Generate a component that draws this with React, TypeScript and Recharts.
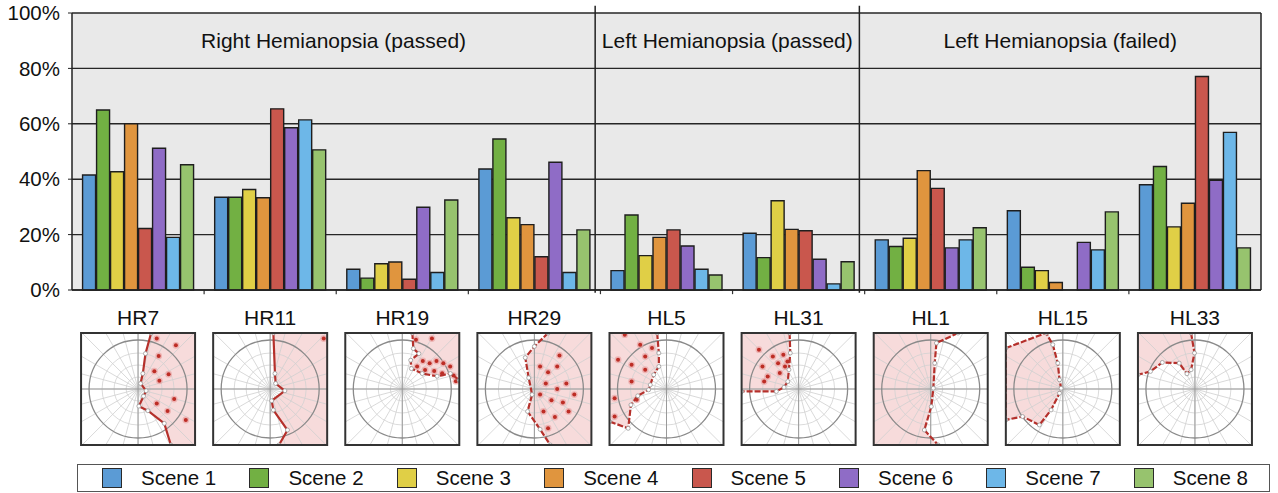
import { BarChart, Bar, XAxis, YAxis, CartesianGrid, ReferenceLine, ReferenceArea, Legend } from 'recharts';

// Participants (one bar group each)
const categories = ['HR7', 'HR11', 'HR19', 'HR29', 'HL5', 'HL31', 'HL1', 'HL15', 'HL33'];

// Percentage per scene, in category order
const scenes = ['Scene 1', 'Scene 2', 'Scene 3', 'Scene 4', 'Scene 5', 'Scene 6', 'Scene 7', 'Scene 8'];
const scene1 = [41.5, 33.5, 7.5, 43.7, 7, 20.5, 18.1, 28.6, 38];
const scene2 = [65, 33.5, 4.3, 54.5, 27.1, 11.7, 15.7, 8.2, 44.6];
const scene3 = [42.7, 36.3, 9.5, 26.1, 12.4, 32.2, 18.7, 7, 22.8];
const scene4 = [60, 33.3, 10.1, 23.6, 19, 21.9, 43.1, 2.7, 31.3];
const scene5 = [22.2, 65.4, 3.9, 12, 21.7, 21.4, 36.7, 0, 77.1];
const scene6 = [51.2, 58.6, 29.9, 46.1, 15.9, 11.1, 15.2, 17.2, 39.6];
const scene7 = [19, 61.4, 6.3, 6.3, 7.5, 2.2, 18.1, 14.5, 56.9];
const scene8 = [45.2, 50.6, 32.5, 21.7, 5.4, 10.2, 22.5, 28.2, 15.2];
const sceneValues = [scene1, scene2, scene3, scene4, scene5, scene6, scene7, scene8];

// Patient groups: label and category span [start, end)
const groupLabels = ['Right Hemianopsia (passed)', 'Left Hemianopsia (passed)', 'Left Hemianopsia (failed)'];
const groupStarts = [0, 4, 6];
const groupEnds = [4, 6, 9];

const yTicks = [0, 20, 40, 60, 80, 100];

const sceneColors = ['#5b9bd5', '#72b043', '#e0cf46', '#e0953e', '#c9574d', '#8f6cc6', '#6db7e8', '#97c36e'];

// divider lines sit a touch left of the category boundary
const DIVIDER_SHIFT = -0.04;

type Pt = [number, number];
interface FieldShape {
  area: Pt[];
  edge: Pt[];
  dashed: boolean;
  dots: Pt[];
}

// Visual field sketches under each participant, unit-square coordinates
const fieldShapes: Record<string, FieldShape> = {
  HR7: {
    edge: [[0.615, 0], [0.565, 0.184], [0.542, 0.362], [0.522, 0.451], [0.571, 0.516], [0.548, 0.564], [0.507, 0.653], [0.586, 0.694], [0.73, 0.807], [0.788, 1]],
    area: [[1, 1], [1, 0]],
    dashed: false,
    dots: [[0.664, 0.05], [0.832, 0.11], [0.681, 0.205], [0.643, 0.341], [0.768, 0.368], [0.687, 0.427], [0.817, 0.59], [0.664, 0.629], [0.759, 0.697], [0.919, 0.777]],
  },
  HR11: {
    edge: [[0.528, 0], [0.542, 0.362], [0.548, 0.451], [0.629, 0.516], [0.513, 0.605], [0.528, 0.688], [0.652, 0.866], [0.577, 1]],
    area: [[1, 1], [1, 0]],
    dashed: false,
    dots: [[0.97, 0.05]],
  },
  HR19: {
    edge: [[0.588, 0], [0.597, 0.139], [0.646, 0.184], [0.574, 0.243], [0.58, 0.318], [0.675, 0.362], [0.806, 0.386], [0.922, 0.362], [1, 0.421]],
    area: [[1, 0]],
    dashed: true,
    dots: [[0.62, 0.06], [0.76, 0.05], [0.68, 0.25], [0.74, 0.27], [0.8, 0.25], [0.86, 0.27], [0.92, 0.3], [0.7, 0.33], [0.78, 0.34], [0.85, 0.36], [0.95, 0.38], [0.63, 0.3], [0.97, 0.43]],
  },
  HR29: {
    edge: [[0.62, 0], [0.5, 0.12], [0.42, 0.22], [0.45, 0.4], [0.48, 0.55], [0.44, 0.7], [0.55, 0.86], [0.64, 1]],
    area: [[1, 1], [1, 0]],
    dashed: true,
    dots: [[0.55, 0.3], [0.62, 0.35], [0.7, 0.3], [0.6, 0.45], [0.7, 0.5], [0.78, 0.45], [0.55, 0.55], [0.65, 0.6], [0.75, 0.62], [0.58, 0.7], [0.68, 0.75], [0.8, 0.7], [0.62, 0.85], [0.72, 0.2], [0.85, 0.55]],
  },
  HL5: {
    edge: [[0.418, 0], [0.433, 0.179], [0.433, 0.299], [0.388, 0.373], [0.358, 0.463], [0.343, 0.507], [0.248, 0.561], [0.188, 0.642], [0.164, 0.851], [0, 0.79]],
    area: [[0, 0]],
    dashed: true,
    dots: [[0.134, 0.015], [0.269, 0.104], [0.075, 0.239], [0.194, 0.284], [0.313, 0.209], [0.313, 0.328], [0.194, 0.433], [0.045, 0.582], [0.239, 0.597], [0.045, 0.746], [0.373, 0.134]],
  },
  HL31: {
    edge: [[0.421, 0], [0.427, 0.179], [0.415, 0.328], [0.405, 0.433], [0.372, 0.484], [0.305, 0.522], [0, 0.522]],
    area: [[0, 0]],
    dashed: true,
    dots: [[0.152, 0.149], [0.274, 0.209], [0.366, 0.194], [0.183, 0.299], [0.32, 0.269], [0.381, 0.299], [0.229, 0.388], [0.198, 0.433], [0.335, 0.358], [0.402, 0.254]],
  },
  HL1: {
    edge: [[0.739, 0], [0.55, 0.09], [0.535, 0.269], [0.523, 0.493], [0.505, 0.657], [0.444, 0.866], [0.565, 1]],
    area: [[0, 1], [0, 0]],
    dashed: true,
    dots: [],
  },
  HL15: {
    edge: [[0, 0.134], [0.353, 0], [0.412, 0.104], [0.456, 0.269], [0.471, 0.418], [0.485, 0.493], [0.471, 0.537], [0.397, 0.687], [0.294, 0.821], [0.147, 0.746], [0, 0.776]],
    area: [],
    dashed: true,
    dots: [],
  },
  HL33: {
    edge: [[0.466, 0], [0.496, 0.179], [0.466, 0.328], [0.43, 0.364], [0.362, 0.269], [0.214, 0.263], [0.11, 0.343], [0, 0.373]],
    area: [[0, 0]],
    dashed: true,
    dots: [],
  },
};

const rows = categories.map((name, i) => {
  const row: Record<string, number | string> = { name, pos: i + 0.5 };
  scenes.forEach((s, k) => {
    row[s] = sceneValues[k][i];
  });
  return row;
});

const FieldTick = (props: any) => {
  const { x, y, payload } = props;
  const name: string = payload.value;
  const shape = fieldShapes[name];
  const w = 114;
  const h = 112;
  const left = x - w / 2;
  const top = y + 43;
  const cx = x;
  const cy = top + h / 2;
  const toXY = (p: Pt) => `${left + p[0] * w},${top + p[1] * h}`;
  const clipId = `field-clip-${name}`;
  const spokes = Array.from({ length: 24 }, (_, k) => (k * Math.PI) / 12);

  return (
    <g>
      <text x={x} y={y + 35} textAnchor="middle" fontSize={21} fill="#111">
        {name}
      </text>
      <defs>
        <clipPath id={clipId}>
          <rect x={left} y={top} width={w} height={h} />
        </clipPath>
      </defs>
      <rect x={left} y={top} width={w} height={h} fill="#fff" />
      <g clipPath={`url(#${clipId})`}>
        {shape && (
          <polygon points={[...shape.edge, ...shape.area].map(toXY).join(' ')} fill="#f4cfcf" fillOpacity={0.75} />
        )}
        {spokes.map((a, k) => (
          <line key={k} x1={cx} y1={cy} x2={cx + Math.cos(a) * 90} y2={cy + Math.sin(a) * 90} stroke="#cfcfcf" strokeWidth={0.8} />
        ))}
        {[12, 24, 36].map((r) => (
          <circle key={r} cx={cx} cy={cy} r={r} fill="none" stroke="#d2d2d2" strokeWidth={0.8} />
        ))}
        <line x1={left} y1={cy} x2={left + w} y2={cy} stroke="#9a9a9a" strokeWidth={1} />
        <line x1={cx} y1={top} x2={cx} y2={top + h} stroke="#9a9a9a" strokeWidth={1} />
        <circle cx={cx} cy={cy} r={49} fill="none" stroke="#8a8a8a" strokeWidth={1.3} />
        {shape &&
          shape.dots.map((p, k) => (
            <g key={k}>
              <circle cx={left + p[0] * w} cy={top + p[1] * h} r={3.4} fill="#eaa4a4" fillOpacity={0.7} />
              <circle cx={left + p[0] * w} cy={top + p[1] * h} r={2} fill="#bd2d25" />
            </g>
          ))}
        {shape && (
          <polyline
            points={(shape.area.length ? shape.edge : [...shape.edge, shape.edge[0]]).map(toXY).join(' ')}
            fill="none"
            stroke="#b5302b"
            strokeWidth={2.2}
            strokeDasharray={shape.dashed ? '6 2' : undefined}
          />
        )}
        {shape &&
          shape.edge.map((p, k) => (
            <circle key={k} cx={left + p[0] * w} cy={top + p[1] * h} r={2} fill="#fff" stroke="#999" strokeWidth={0.8} />
          ))}
      </g>
      <rect x={left} y={top} width={w} height={h} fill="none" stroke="#333" strokeWidth={2} />
    </g>
  );
};

const SceneLegend = (props: any) => {
  const items = props.payload || [];
  return (
    <div
      style={{
        boxSizing: 'border-box',
        height: 28,
        border: '1.5px solid #555',
        display: 'flex',
        alignItems: 'center',
        paddingLeft: 24,
        background: '#fff',
        fontFamily: '"Liberation Sans", Arial, sans-serif',
      }}
    >
      {items.map((item: any) => (
        <div key={item.value} style={{ width: 147.4, display: 'flex', alignItems: 'center', flexShrink: 0 }}>
          <span
            style={{
              display: 'inline-block',
              boxSizing: 'border-box',
              width: 20,
              height: 20,
              background: item.color,
              border: '1.5px solid #2a2a2a',
              marginRight: 19,
            }}
          />
          <span style={{ fontSize: 20.5, color: '#111', lineHeight: '20px' }}>{item.value}</span>
        </div>
      ))}
    </div>
  );
};

export default function App() {
  const edges = [0, 4 + DIVIDER_SHIFT, 6 + DIVIDER_SHIFT, 9];
  const boundaryTicks = [1, 2, 3, 4, 5, 6, 7, 8];

  return (
    <div
      style={{
        position: 'absolute',
        left: 0,
        top: 0,
        width: 1278,
        height: 493,
        background: '#fff',
        fontFamily: '"Liberation Sans", Arial, sans-serif',
      }}
    >
      <BarChart
        width={1278}
        height={493}
        data={rows}
        margin={{ top: 13, right: 17, bottom: 0, left: 0 }}
        barCategoryGap="8%"
        barGap={1}
      >
        <CartesianGrid xAxisId="cat" vertical={false} fill="#e9e9e9" stroke="#262626" strokeWidth={1.4} />
        <XAxis
          xAxisId="cat"
          dataKey="name"
          height={203}
          interval={0}
          tickSize={0}
          tickMargin={0}
          tickLine={false}
          axisLine={{ stroke: '#222', strokeWidth: 1.5 }}
          tick={<FieldTick />}
        />
        <XAxis xAxisId="grid" dataKey="pos" type="number" domain={[0, 9]} allowDataOverflow hide />
        <YAxis
          width={72}
          domain={[0, 100]}
          ticks={yTicks}
          interval={0}
          tickFormatter={(v: number) => `${v}%`}
          tickSize={4}
          tickMargin={8}
          tick={{ fill: '#111', fontSize: 20.5 }}
          tickLine={{ stroke: '#222' }}
          axisLine={{ stroke: '#222', strokeWidth: 1.5 }}
        />

        {scenes.map((s, k) => (
          <Bar
            key={s}
            xAxisId="cat"
            dataKey={s}
            name={s}
            fill={sceneColors[k]}
            stroke="#1e1e1e"
            strokeWidth={1.4}
            isAnimationActive={false}
          />
        ))}

        {groupLabels.map((label, g) => (
          <ReferenceArea
            key={label}
            xAxisId="grid"
            x1={g === 0 ? groupStarts[g] : groupStarts[g] + DIVIDER_SHIFT}
            x2={g === groupLabels.length - 1 ? groupEnds[g] : groupEnds[g] + DIVIDER_SHIFT}
            y1={80}
            y2={100}
            fill="transparent"
            fillOpacity={0}
            label={{ value: label, position: 'center', fill: '#111', fontSize: 21 }}
          />
        ))}

        {edges.slice(1, 3).map((x) => (
          <ReferenceLine
            key={`div-${x}`}
            xAxisId="grid"
            segment={[
              { x, y: -1 },
              { x, y: 102.6 },
            ]}
            stroke="#222"
            strokeWidth={1.5}
            ifOverflow="visible"
          />
        ))}

        <ReferenceLine
          xAxisId="grid"
          segment={[
            { x: 9, y: 0 },
            { x: 9, y: 100 },
          ]}
          stroke="#222"
          strokeWidth={1.5}
          ifOverflow="visible"
        />

        {boundaryTicks.map((x) => (
          <ReferenceLine
            key={`tick-${x}`}
            xAxisId="grid"
            segment={[
              { x, y: 0 },
              { x, y: -1.5 },
            ]}
            stroke="#333"
            strokeWidth={1.2}
            ifOverflow="visible"
          />
        ))}

        <Legend
          layout="horizontal"
          verticalAlign="middle"
          align="center"
          wrapperStyle={{ left: 77, top: 464, width: 1193, height: 28 }}
          content={<SceneLegend />}
        />
      </BarChart>
    </div>
  );
}
